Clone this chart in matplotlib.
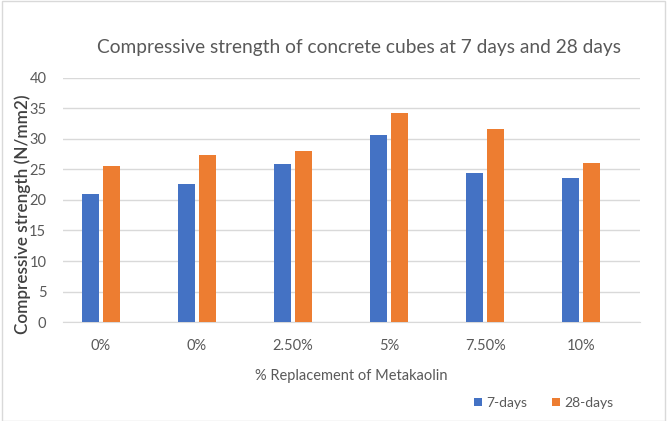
import numpy as np
import matplotlib.pyplot as plt
from matplotlib.patches import Rectangle

categories = ['0%', '0%', '2.50%', '5%', '7.50%', '10%']
days7 = [20.9, 22.6, 25.9, 30.6, 24.4, 23.6]
days28 = [25.6, 27.3, 28.1, 34.3, 31.7, 26.0]

plt.rcParams['font.family'] = ['Lato', 'DejaVu Sans']
grey = '#595959'

fig = plt.figure(figsize=(6.67, 4.21), dpi=100)
fig.patches.append(Rectangle((0.003, 0.0), 0.994, 0.997, transform=fig.transFigure,
                             fill=False, edgecolor='#d9d9d9', linewidth=1))
ax = fig.add_axes([0.0945, 0.235, 0.865, 0.58])

x = np.arange(len(categories))
w = 0.177
ax.bar(x - 0.109, days7, w, color='#4472c4', label='7-days', zorder=3)
ax.bar(x + 0.109, days28, w, color='#ed7d31', label='28-days', zorder=3)

ax.set_xlim(-0.39, 5.61)
ax.set_ylim(0, 40)
ax.set_yticks(range(0, 41, 5))
ax.set_xticks(x)
ax.set_xticklabels(categories)
ax.grid(axis='y', color='#d9d9d9', linewidth=1, zorder=0)
for s in ['top', 'right', 'left']:
    ax.spines[s].set_visible(False)
ax.spines['bottom'].set_color('#d9d9d9')
ax.tick_params(length=0, colors=grey, labelsize=10.5)
ax.tick_params(axis='y', pad=12)
ax.tick_params(axis='x', pad=12)

ax.set_xlabel('% Replacement of Metakaolin', fontsize=10.5, color=grey, labelpad=12)
ax.set_ylabel('Compressive strength (N/mm2)', fontsize=12.3, color='#404040',
              fontweight='semibold')
ax.yaxis.set_label_coords(-0.056, 0.44)
fig.text(0.5375, 0.886, 'Compressive strength of concrete cubes at 7 days and 28 days',
         ha='center', va='center', fontsize=13.8, color=grey)

fig.legend(loc='center', bbox_to_anchor=(0.815, 0.043), ncol=2, frameon=False,
           fontsize=10, labelcolor=grey, handlelength=0.6, handleheight=0.6,
           handletextpad=0.3, columnspacing=1.8)

fig.savefig('out.png', dpi=100)
